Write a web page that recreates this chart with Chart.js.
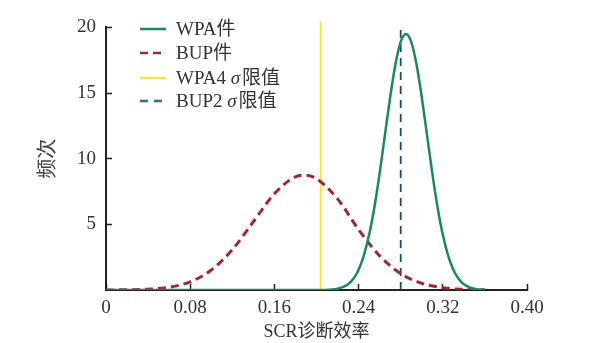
<!DOCTYPE html>
<html>
<head>
<meta charset="utf-8">
<script src="https://cdn.jsdelivr.net/npm/chart.js@4.4.1/dist/chart.umd.min.js"></script>
<style>
  html, body { margin: 0; padding: 0; background: #fff; }
  #wrap { width: 612px; height: 343px; }
</style>
</head>
<body>
<div id="wrap"><canvas id="grafico" width="612" height="343"></canvas></div>
<script>
// dados
const xTicks = [0, 0.08, 0.16, 0.24, 0.32, 0.40];
const yTicks = [5, 10, 15, 20];

const wpaX = [0, 0.1, 0.2, 0.215, 0.22, 0.225, 0.23, 0.235, 0.24, 0.245, 0.25, 0.255, 0.26, 0.265,
  0.27, 0.275, 0.28, 0.285, 0.29, 0.295, 0.30, 0.305, 0.31, 0.315, 0.32, 0.325, 0.33, 0.335,
  0.34, 0.345, 0.35, 0.355, 0.36];
const wpaY = [0, 0, 0, 0.04, 0.10, 0.22, 0.44, 0.86, 1.55, 2.64, 4.2, 6.3, 8.9, 11.8,
  14.7, 17.2, 18.9, 19.5, 18.9, 17.2, 14.7, 11.8, 8.9, 6.3, 4.2, 2.64, 1.55, 0.86,
  0.44, 0.22, 0.10, 0.04, 0.02];

const bupX = [0, 0.02, 0.04, 0.06, 0.08, 0.10, 0.12, 0.14, 0.16, 0.18, 0.19, 0.20, 0.22,
  0.24, 0.26, 0.28, 0.30, 0.32, 0.34, 0.36];
const bupY = [0, 0.02, 0.06, 0.21, 0.62, 1.52, 3.07, 5.2, 7.33, 8.62, 8.74, 8.47, 6.94,
  4.6, 2.6, 1.25, 0.51, 0.17, 0.05, 0.01];

const wpaLimite = 0.204;   // WPA 4σ
const bupLimite = 0.280;   // BUP 2σ

const nomes = ['WPA件', 'BUP件', 'WPA4 σ限值', 'BUP2 σ限值'];
const cores = ['#1a8a5c', '#a3262f', '#eeea3c', '#2a6f9c'];

const fonteSerif = '"Liberation Serif", "Noto Sans CJK SC", serif';

function pontos(xs, ys) {
  return xs.map((x, i) => ({ x: x, y: ys[i] }));
}

// legenda desenhada dentro da área do gráfico (σ em itálico)
const legendaInterna = {
  id: 'legendaInterna',
  afterDraw(chart) {
    const c = chart.ctx;
    const estilos = [[], [8, 5], [], [8, 6]];
    const linhasY = [29, 53, 78, 101];
    c.save();
    c.textBaseline = 'middle';
    nomes.forEach((nome, i) => {
      c.beginPath();
      c.setLineDash(estilos[i]);
      c.strokeStyle = cores[i];
      c.lineWidth = 2.5;
      c.moveTo(140, linhasY[i]);
      c.lineTo(166, linhasY[i]);
      c.stroke();
      c.setLineDash([]);
      c.fillStyle = '#333';
      const partes = nome.split('σ');
      let x = 176;
      const y = linhasY[i] + 1;
      c.font = '19px ' + fonteSerif;
      c.fillText(partes[0], x, y);
      x += c.measureText(partes[0]).width;
      if (partes.length > 1) {
        c.font = 'italic 19px ' + fonteSerif;
        c.fillText('σ', x, y);
        x += c.measureText('σ').width + 2;
        c.font = '19px ' + fonteSerif;
        c.fillText(partes[1], x, y);
      }
    });
    c.restore();
  }
};

const ctx = document.getElementById('grafico');

new Chart(ctx, {
  type: 'line',
  data: {
    datasets: [
      {
        label: nomes[0],
        data: pontos(wpaX, wpaY),
        borderColor: cores[0],
        borderWidth: 2.5,
        pointRadius: 0,
        cubicInterpolationMode: 'monotone',
        order: 1
      },
      {
        label: nomes[1],
        data: pontos(bupX, bupY),
        borderColor: cores[1],
        borderWidth: 3,
        borderDash: [8, 5],
        pointRadius: 0,
        cubicInterpolationMode: 'monotone',
        order: 2
      },
      {
        label: nomes[2],
        data: [{ x: wpaLimite, y: 0 }, { x: wpaLimite, y: 20.45 }],
        borderColor: cores[2],
        borderWidth: 2,
        pointRadius: 0,
        clip: false,
        order: 3
      },
      {
        label: nomes[3],
        data: [{ x: bupLimite, y: 0 }, { x: bupLimite, y: 20 }],
        borderColor: '#1d4a70',
        borderWidth: 1.8,
        borderDash: [8, 6],
        pointRadius: 0,
        order: 4
      }
    ]
  },
  options: {
    responsive: false,
    animation: false,
    layout: { padding: { left: 34, right: 85, top: 27, bottom: 0 } },
    plugins: {
      legend: { display: false },
      tooltip: { enabled: false }
    },
    scales: {
      x: {
        type: 'linear',
        min: 0,
        max: 0.40,
        afterBuildTicks(scale) {
          scale.ticks = xTicks.map(v => ({ value: v }));
        },
        afterFit(scale) { scale.height = 53; },
        ticks: {
          color: '#333',
          font: { family: fonteSerif, size: 19 },
          padding: 13,
          maxRotation: 0,
          callback: v => (v === 0 ? '0' : v.toFixed(2))
        },
        grid: { drawOnChartArea: false, tickLength: -6, color: '#222', tickWidth: 1.5 },
        border: { color: '#222', width: 2 },
        title: {
          display: true,
          text: 'SCR诊断效率',
          color: '#333',
          font: { family: fonteSerif, size: 18 },
          padding: { top: 0, bottom: 0 }
        }
      },
      y: {
        min: 0,
        max: 20,
        afterBuildTicks(scale) {
          scale.ticks = yTicks.map(v => ({ value: v }));
        },
        afterFit(scale) { scale.width = 72; },
        ticks: {
          color: '#333',
          font: { family: fonteSerif, size: 19 },
          padding: 16
        },
        grid: { drawOnChartArea: false, tickLength: -6, color: '#222', tickWidth: 1.5 },
        border: { color: '#222', width: 2 },
        title: {
          display: true,
          text: '频次',
          color: '#444',
          font: { family: '"Noto Sans CJK SC", sans-serif', size: 20 },
          padding: { top: 0, bottom: 12 }
        }
      }
    }
  },
  plugins: [legendaInterna]
});
</script>
</body>
</html>
